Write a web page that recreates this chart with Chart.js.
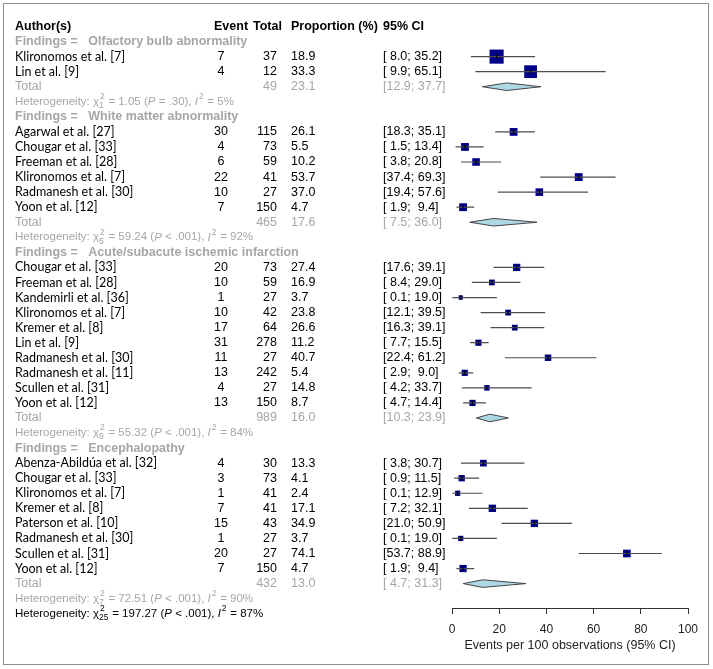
<!DOCTYPE html>
<html>
<head>
<meta charset="utf-8">
<script src="https://cdn.jsdelivr.net/npm/chart.js@4.4.0/dist/chart.umd.min.js"></script>
<style>
    html, body { margin: 0; padding: 0; background: #fff; }
    #wrap { width: 713px; height: 669px; }
</style>
</head>
<body>
<div id="wrap"><canvas id="forestChart" width="713" height="669"></canvas></div>
<script>
// Subgroups (Findings)
var groupNames = ['Olfactory bulb abnormality', 'White matter abnormality', 'Acute/subacute ischemic infarction', 'Encephalopathy'];

var authors = [
    ['Klironomos et al. [7]', 'Lin et al. [9]'],
    ['Agarwal et al. [27]', 'Chougar et al. [33]', 'Freeman et al. [28]', 'Klironomos et al. [7]', 'Radmanesh et al. [30]', 'Yoon et al. [12]'],
    ['Chougar et al. [33]', 'Freeman et al. [28]', 'Kandemirli et al. [36]', 'Klironomos et al. [7]', 'Kremer et al. [8]', 'Lin et al. [9]', 'Radmanesh et al. [30]', 'Radmanesh et al. [11]', 'Scullen et al. [31]', 'Yoon et al. [12]'],
    ['Abenza-Abildúa et al. [32]', 'Chougar et al. [33]', 'Klironomos et al. [7]', 'Kremer et al. [8]', 'Paterson et al. [10]', 'Radmanesh et al. [30]', 'Scullen et al. [31]', 'Yoon et al. [12]']
];
var events = [[7, 4], [30, 4, 6, 22, 10, 7], [20, 10, 1, 10, 17, 31, 11, 13, 4, 13], [4, 3, 1, 7, 15, 1, 20, 7]];
var totals = [[37, 12], [115, 73, 59, 41, 27, 150], [73, 59, 27, 42, 64, 278, 27, 242, 27, 150], [30, 73, 41, 41, 43, 27, 27, 150]];
var proportion = [[18.9, 33.3], [26.1, 5.5, 10.2, 53.7, 37.0, 4.7], [27.4, 16.9, 3.7, 23.8, 26.6, 11.2, 40.7, 5.4, 14.8, 8.7], [13.3, 4.1, 2.4, 17.1, 34.9, 3.7, 74.1, 4.7]];
var ciLower = [[8.0, 9.9], [18.3, 1.5, 3.8, 37.4, 19.4, 1.9], [17.6, 8.4, 0.1, 12.1, 16.3, 7.7, 22.4, 2.9, 4.2, 4.7], [3.8, 0.9, 0.1, 7.2, 21.0, 0.1, 53.7, 1.9]];
var ciUpper = [[35.2, 65.1], [35.1, 13.4, 20.8, 69.3, 57.6, 9.4], [39.1, 29.0, 19.0, 39.5, 39.1, 15.5, 61.2, 9.0, 33.7, 14.4], [30.7, 11.5, 12.9, 32.1, 50.9, 19.0, 88.9, 9.4]];
// study weights (%) within subgroup, estimated from square sizes
var weights = [[55, 45], [17, 17, 16, 17, 16, 17], [14.8, 9.3, 5.2, 9.3, 9.3, 10.7, 11.8, 10.7, 8.2, 10.7], [12.3, 11.1, 7.7, 15.1, 15.1, 7.7, 16.4, 14.6]];

// pooled per subgroup
var pooledN = [49, 465, 989, 432];
var pooledProp = [23.1, 17.6, 16.0, 13.0];
var pooledLower = [12.9, 7.5, 10.3, 4.7];
var pooledUpper = [37.7, 36.0, 23.9, 31.3];

// heterogeneity
var hetDf = [1, 5, 9, 7];
var hetChi = ['1.05', '59.24', '55.32', '72.51'];
var hetP = ['= .30', '< .001', '< .001', '< .001'];
var hetI2 = [5, 92, 84, 90];
var overallDf = 25, overallChi = '197.27', overallP = '< .001', overallI2 = 87;

var xTicks = [0, 20, 40, 60, 80, 100];

// build the row layout: row 0 is the header
var rows = [];
var r = 1;
groupNames.forEach(function (name, g) {
    rows.push({ kind: 'group', g: g, row: r++ });
    authors[g].forEach(function (a, i) {
        rows.push({ kind: 'study', g: g, i: i, row: r++ });
    });
    rows.push({ kind: 'total', g: g, row: r++ });
    rows.push({ kind: 'het', g: g, row: r++ });
});
rows.push({ kind: 'overall', row: r++ });

var squarePts = [], whiskerPts = [], squareSide = [];
rows.forEach(function (it) {
    if (it.kind !== 'study') return;
    var g = it.g, i = it.i;
    squarePts.push({ x: proportion[g][i], y: it.row });
    squareSide.push(1.9 * Math.sqrt(weights[g][i]));
    whiskerPts.push({ x: ciLower[g][i], y: it.row });
    whiskerPts.push({ x: ciUpper[g][i], y: it.row });
    whiskerPts.push({ x: ciUpper[g][i], y: null });
});

var FONT = '"Liberation Sans", Arial, sans-serif';
var GRAY = '#a6a6a6';

function pad4(v) {
    var s = v.toFixed(1);
    while (s.length < 4) s = ' ' + s;
    return s;
}
function ciText(lo, hi) {
    return '[' + pad4(lo) + '; ' + pad4(hi) + ']';
}

function richText(ctx, x, y, parts, color) {
    ctx.fillStyle = color;
    ctx.textAlign = 'left';
    ctx.textBaseline = 'middle';
    parts.forEach(function (p) {
        if (p.sup !== undefined || p.sub !== undefined) {
            ctx.font = '8.5px ' + FONT;
            var w = 0;
            if (p.sup !== undefined) {
                ctx.fillText(p.sup, x + 1, y - 5);
                w = ctx.measureText(p.sup).width + 1;
            }
            if (p.sub !== undefined) {
                ctx.fillText(p.sub, x, y + 4);
                w = Math.max(w, ctx.measureText(p.sub).width);
            }
            x += w + 0.5;
        } else {
            ctx.font = (p.it ? 'italic ' : '') + '11.5px ' + FONT;
            ctx.fillText(p.t, x, y);
            x += ctx.measureText(p.t).width;
        }
    });
}

function hetParts(df, chi, p, i2) {
    return [
        { t: 'Heterogeneity: ' }, { t: 'χ' }, { sup: '2', sub: String(df) },
        { t: ' = ' + chi + ' (' }, { t: 'P', it: true }, { t: ' ' + p + '), ' },
        { t: 'I', it: true }, { sup: '2' }, { t: ' = ' + i2 + '%' }
    ];
}

var forestText = {
    id: 'forestText',
    afterDatasetsDraw: function (chart) {
        // pooled diamonds
        var ctx = chart.ctx, xs = chart.scales.x, ys = chart.scales.y;
        ctx.save();
        rows.forEach(function (it) {
            if (it.kind !== 'total') return;
            var g = it.g, y = ys.getPixelForValue(it.row), h = 3.8;
            ctx.beginPath();
            ctx.moveTo(xs.getPixelForValue(pooledLower[g]), y);
            ctx.lineTo(xs.getPixelForValue(pooledProp[g]), y - h);
            ctx.lineTo(xs.getPixelForValue(pooledUpper[g]), y);
            ctx.lineTo(xs.getPixelForValue(pooledProp[g]), y + h);
            ctx.closePath();
            ctx.fillStyle = '#add8e6';
            ctx.fill();
            ctx.strokeStyle = '#444';
            ctx.lineWidth = 1;
            ctx.stroke();
        });
        ctx.restore();
    },
    afterDraw: function (chart) {
        var ctx = chart.ctx, ys = chart.scales.y;
        ctx.save();
        // frame
        ctx.strokeStyle = '#8c8c8c';
        ctx.lineWidth = 1;
        ctx.strokeRect(3.5, 3.5, 705, 661);

        ctx.textBaseline = 'middle';
        var hy = ys.getPixelForValue(0);
        ctx.fillStyle = '#000';
        ctx.font = 'bold 12.5px ' + FONT;
        ctx.textAlign = 'left';
        ctx.fillText('Author(s)', 15, hy);
        ctx.fillText('Event', 214, hy);
        ctx.fillText('Total', 253, hy);
        ctx.fillText('Proportion (%)', 291, hy);
        ctx.fillText('95% CI', 383, hy);

        rows.forEach(function (it) {
            var y = ys.getPixelForValue(it.row), g = it.g;
            if (it.kind === 'group') {
                ctx.fillStyle = GRAY;
                ctx.font = 'bold 12.5px ' + FONT;
                ctx.textAlign = 'left';
                ctx.fillText('Findings =   ' + groupNames[g], 15, y);
            } else if (it.kind === 'study') {
                var i = it.i;
                ctx.fillStyle = '#000';
                ctx.font = '12.5px Lato, sans-serif';
                ctx.textAlign = 'left';
                ctx.fillText(authors[g][i], 15, y);
                ctx.font = '12.5px ' + FONT;
                ctx.textAlign = 'center';
                ctx.fillText(String(events[g][i]), 221, y);
                ctx.textAlign = 'right';
                ctx.fillText(String(totals[g][i]), 277, y);
                ctx.textAlign = 'left';
                ctx.fillText(proportion[g][i].toFixed(1), 291, y);
                ctx.fillText(ciText(ciLower[g][i], ciUpper[g][i]), 383, y);
            } else if (it.kind === 'total') {
                ctx.fillStyle = GRAY;
                ctx.font = '12.5px ' + FONT;
                ctx.textAlign = 'left';
                ctx.fillText('Total', 15, y);
                ctx.textAlign = 'right';
                ctx.fillText(String(pooledN[g]), 277, y);
                ctx.textAlign = 'left';
                ctx.fillText(pooledProp[g].toFixed(1), 291, y);
                ctx.fillText(ciText(pooledLower[g], pooledUpper[g]), 383, y);
            } else if (it.kind === 'het') {
                richText(ctx, 15, y, hetParts(hetDf[g], hetChi[g], hetP[g], hetI2[g]), GRAY);
            } else {
                richText(ctx, 15, y, hetParts(overallDf, overallChi, overallP, overallI2), '#000');
            }
        });
        ctx.restore();
    }
};

var chartCtx = document.getElementById('forestChart').getContext('2d');
new Chart(chartCtx, {
    type: 'scatter',
    data: {
        datasets: [
            {
                // point estimate tick
                data: squarePts,
                pointStyle: 'line',
                rotation: 90,
                pointRadius: 2.5,
                borderColor: '#000',
                borderWidth: 1,
                order: 1
            },
            {
                // confidence intervals
                data: whiskerPts,
                showLine: true,
                spanGaps: false,
                borderColor: '#4d4d4d',
                borderWidth: 1.2,
                pointRadius: 0,
                order: 2
            },
            {
                // study squares, area ~ weight
                data: squarePts,
                pointStyle: 'rect',
                pointRadius: function (c) { return squareSide[c.dataIndex] / 1.4142; },
                backgroundColor: '#00008b',
                borderColor: '#00008b',
                borderWidth: 0,
                order: 3
            }
        ]
    },
    options: {
        responsive: false,
        animation: false,
        events: [],
        layout: {
            padding: { left: 452, right: 25, top: 20, bottom: 15.6 }
        },
        scales: {
            x: {
                type: 'linear',
                min: 0,
                max: 100,
                afterBuildTicks: function (axis) {
                    axis.ticks = xTicks.map(function (v) { return { value: v }; });
                },
                ticks: {
                    padding: 8,
                    color: '#222',
                    font: { family: FONT, size: 12 }
                },
                grid: {
                    display: true,
                    drawOnChartArea: false,
                    drawTicks: true,
                    tickLength: 6,
                    color: '#333'
                },
                border: { display: true, color: '#333', width: 1 },
                title: {
                    display: true,
                    text: 'Events per 100 observations (95% CI)',
                    color: '#222',
                    font: { family: FONT, size: 12.5 },
                    padding: { top: -6, bottom: 0 }
                }
            },
            y: {
                type: 'linear',
                display: false,
                reverse: true,
                min: -0.432,
                max: 38.62
            }
        },
        plugins: {
            legend: { display: false },
            tooltip: { enabled: false }
        }
    },
    plugins: [forestText]
});
</script>
</body>
</html>
